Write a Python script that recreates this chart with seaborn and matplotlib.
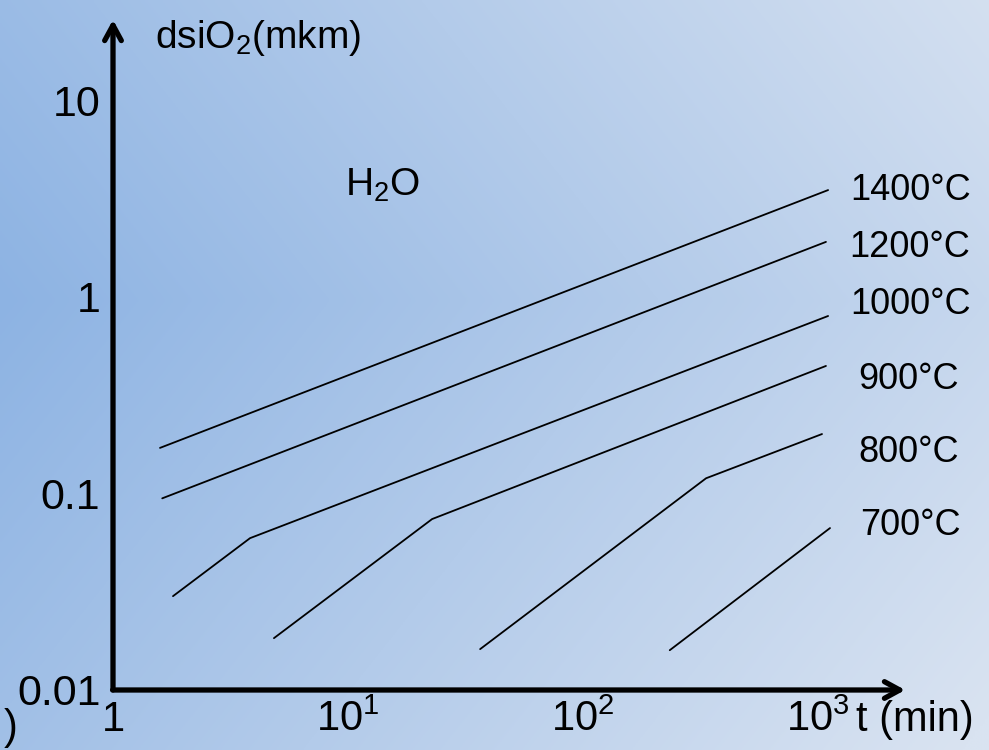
import numpy as np
import pandas as pd
import seaborn as sns
import matplotlib.pyplot as plt
from matplotlib.colors import to_rgb

sns.set_style('white')
plt.rcParams['font.family'] = ['Liberation Sans', 'DejaVu Sans']
plt.rcParams['mathtext.fontset'] = 'custom'
plt.rcParams['mathtext.rm'] = 'Liberation Sans'
plt.rcParams['text.color'] = 'black'

# oxide thickness (mkm) vs time (min), wet oxidation
temps = ['1400°C', '1200°C', '1000°C', '900°C', '800°C', '700°C']
t_1400 = [1.585, 1104]
d_1400 = [0.170, 3.51]
t_1200 = [1.62, 1081]
d_1200 = [0.094, 1.91]
t_1000 = [1.80, 3.83, 1104]
d_1000 = [0.0298, 0.0589, 0.80]
t_900 = [4.84, 22.8, 1081]
d_900 = [0.0182, 0.0737, 0.445]
t_800 = [36.5, 334, 1040]
d_800 = [0.0160, 0.119, 0.200]
t_700 = [234, 1125]
d_700 = [0.0158, 0.0663]

x_ticks = [1, 10, 100, 1000]
x_ticklabels = ['1', r'$\mathregular{10^1}$', r'$\mathregular{10^2}$', r'$\mathregular{10^3}$']
y_ticks = [0.01, 0.1, 1, 10]
y_ticklabels = ['0.01', '0.1', '1', '10']

series = [t_1400, t_1200, t_1000, t_900, t_800, t_700]
values = [d_1400, d_1200, d_1000, d_900, d_800, d_700]
rows = []
for name, ts, ds in zip(temps, series, values):
    for i in range(len(ts)):
        rows.append({'T': name, 't': ts[i], 'd': ds[i]})
df = pd.DataFrame(rows)

fig = plt.figure(figsize=(9.89, 7.5), dpi=100)

# gradient background
bg = fig.add_axes([0, 0, 1, 1], zorder=-1)
gx, gy = np.meshgrid(np.linspace(0, 1, 400), np.linspace(0, 1, 300))
s = np.clip(0.75 * gx + 0.45 * np.abs(gy - 0.4), 0, 1)[..., None]
dark = np.array(to_rgb('#8db3e3'))
light = np.array(to_rgb('#d9e3f1'))
bg.imshow(dark * (1 - s) + light * s, aspect='auto', extent=[0, 1, 1, 0])
bg.set_axis_off()

ax = fig.add_axes([113 / 989, 60 / 750, 795 / 989, 673 / 750])
ax.patch.set_alpha(0)
ax.set_xscale('log')
ax.set_yscale('log')
sns.lineplot(data=df, x='t', y='d', hue='T', units='T', estimator=None, sort=False,
             palette=['black'] * len(temps), linewidth=1.3, legend=False, ax=ax)
ax.set_xlim(1, 10 ** (795 / 235))
ax.set_ylim(0.0099, 10 ** 1.428)

ax.set_xticks(x_ticks)
ax.set_xticklabels(x_ticklabels, fontsize=30)
ax.set_yticks(y_ticks)
ax.set_yticklabels(y_ticklabels, fontsize=31)
ax.minorticks_off()
ax.tick_params(axis='both', direction='in', length=14, width=1.2, color='black', labelcolor='black')
ax.tick_params(axis='x', pad=7)
ax.tick_params(axis='y', pad=9)
ax.set_xlabel('')
ax.set_ylabel('')
for sp in ax.spines.values():
    sp.set_visible(False)

# axes with arrows
arrow = dict(arrowstyle='->, head_width=0.6, head_length=1.1', lw=3.8, color='black')
ax.annotate('', xy=(0, 1), xytext=(0, -0.004), xycoords='axes fraction', arrowprops=arrow)
ax.annotate('', xy=(1, 0), xytext=(-0.004, 0), xycoords='axes fraction', arrowprops=arrow)

# temperature labels at line ends
offsets = {'1400°C': (16, 0), '1200°C': (17, -4), '1000°C': (16, 8),
           '900°C': (23, -10), '800°C': (26, -13), '700°C': (22, 2)}
for name, ts, ds in zip(temps, series, values):
    ax.annotate(name, xy=(ts[-1], ds[-1]), xytext=offsets[name], textcoords='offset points',
                fontsize=26, va='center', ha='left', color='black')

fig.text(155 / 989, 1 - 38 / 750, r'd$\mathregular{siO_2}$(mkm)', fontsize=28, va='center')
fig.text(345 / 989, 1 - 185 / 750, r'H$\mathregular{_2}$O', fontsize=28, va='center')
fig.text(856 / 989, 1 - 720 / 750, 't (min)', fontsize=30, va='center')
fig.text(4 / 989, 1 - 728 / 750, ')', fontsize=30, va='center')

fig.savefig('out.png', dpi=100)
